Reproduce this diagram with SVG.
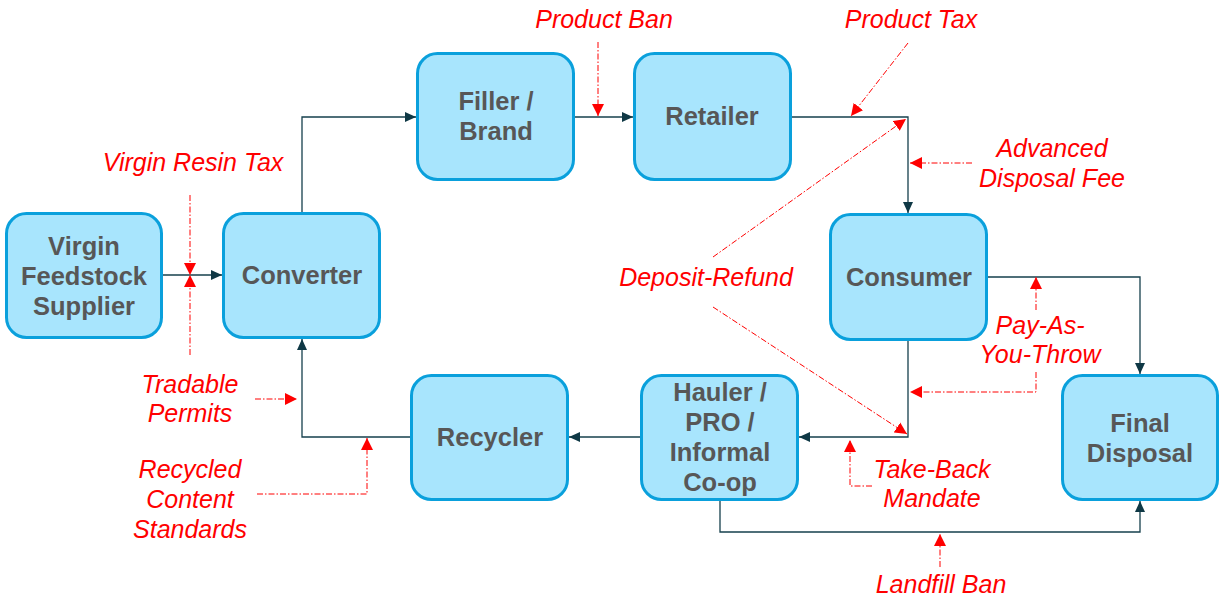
<svg xmlns="http://www.w3.org/2000/svg" width="1225" height="601" viewBox="0 0 1225 601">
<style>
.box{fill:#a8e5fd;stroke:#0aa0dc;stroke-width:3}
.lbl{font-family:"Liberation Sans",Arial,sans-serif;font-weight:bold;font-size:25.5px;fill:#575757;text-anchor:middle}
.pol{font-family:"Liberation Sans",Arial,sans-serif;font-style:italic;font-size:25px;fill:#ff0000;text-anchor:middle}
.con{fill:none;stroke:#16404d;stroke-width:1.3}
.red{fill:none;stroke:#ff0000;stroke-width:1;stroke-dasharray:6 2 1.5 2}
</style>
<defs>
<marker id="ad" markerUnits="userSpaceOnUse" markerWidth="12" markerHeight="12" refX="11" refY="6" orient="auto"><path d="M0,1 L11,6 L0,11 z" fill="#0f3845"/></marker>
<marker id="ar" markerUnits="userSpaceOnUse" markerWidth="13" markerHeight="13" refX="12" refY="6.5" orient="auto"><path d="M0,0.5 L12,6.5 L0,12.5 z" fill="#ff0000"/></marker>
</defs>
<rect width="1225" height="601" fill="#ffffff"/>
<g id="connectors">
<path class="con" d="M163,275 H222" marker-end="url(#ad)"/>
<path class="con" d="M302,212 V117 H416" marker-end="url(#ad)"/>
<path class="con" d="M575,117 H633" marker-end="url(#ad)"/>
<path class="con" d="M792,117 H908 V213" marker-end="url(#ad)"/>
<path class="con" d="M988,277 H1140 V374" marker-end="url(#ad)"/>
<path class="con" d="M908,341 V437 H799" marker-end="url(#ad)"/>
<path class="con" d="M640,437 H569" marker-end="url(#ad)"/>
<path class="con" d="M410,437 H302 V339" marker-end="url(#ad)"/>
<path class="con" d="M720,501 V532 H1140 V501" marker-end="url(#ad)"/>
</g>
<g id="policy-arrows">
<path class="red" d="M190,195 V275" marker-end="url(#ar)"/>
<path class="red" d="M190,355 V275" marker-end="url(#ar)"/>
<path class="red" d="M255,399 H297" marker-end="url(#ar)"/>
<path class="red" d="M257,494 H367 V438" marker-end="url(#ar)"/>
<path class="red" d="M598,42 V116" marker-end="url(#ar)"/>
<path class="red" d="M908,43 L851,116" marker-end="url(#ar)"/>
<path class="red" d="M972,163 H910" marker-end="url(#ar)"/>
<path class="red" d="M713,257 L906,119" marker-end="url(#ar)"/>
<path class="red" d="M713,307 L907,434" marker-end="url(#ar)"/>
<path class="red" d="M1036,310 V277" marker-end="url(#ar)"/>
<path class="red" d="M1036,372 V392 H910" marker-end="url(#ar)"/>
<path class="red" d="M872,486 H850 V440" marker-end="url(#ar)"/>
<path class="red" d="M940,567 V534" marker-end="url(#ar)"/>
</g>
<g id="virgin-feedstock-supplier">
<rect class="box" x="6.5" y="213.5" width="155" height="124" rx="20"/>
<text class="lbl" x="84" y="255">Virgin</text>
<text class="lbl" x="84" y="285">Feedstock</text>
<text class="lbl" x="84" y="315">Supplier</text>
</g>
<g id="converter">
<rect class="box" x="223.5" y="213.5" width="156" height="124" rx="20"/>
<text class="lbl" x="302" y="284">Converter</text>
</g>
<g id="filler-brand">
<rect class="box" x="417.5" y="53.5" width="156" height="126" rx="20"/>
<text class="lbl" x="496" y="110">Filler /</text>
<text class="lbl" x="496" y="140">Brand</text>
</g>
<g id="retailer">
<rect class="box" x="634.5" y="53.5" width="156" height="126" rx="20"/>
<text class="lbl" x="712" y="125">Retailer</text>
</g>
<g id="consumer">
<rect class="box" x="830.5" y="214.5" width="156" height="125" rx="20"/>
<text class="lbl" x="909" y="286">Consumer</text>
</g>
<g id="hauler">
<rect class="box" x="641.5" y="375.5" width="156" height="124" rx="20"/>
<text class="lbl" x="720" y="401">Hauler /</text>
<text class="lbl" x="720" y="431">PRO /</text>
<text class="lbl" x="720" y="461">Informal</text>
<text class="lbl" x="720" y="491">Co-op</text>
</g>
<g id="recycler">
<rect class="box" x="411.5" y="375.5" width="156" height="124" rx="20"/>
<text class="lbl" x="490" y="446">Recycler</text>
</g>
<g id="final-disposal">
<rect class="box" x="1062.5" y="375.5" width="155" height="124" rx="20"/>
<text class="lbl" x="1140" y="432">Final</text>
<text class="lbl" x="1140" y="462">Disposal</text>
</g>
<g id="policy-labels">
<text class="pol" x="193" y="171">Virgin Resin Tax</text>
<text class="pol" x="190" y="393">Tradable</text>
<text class="pol" x="190" y="422">Permits</text>
<text class="pol" x="190" y="478">Recycled</text>
<text class="pol" x="190" y="508">Content</text>
<text class="pol" x="190" y="538">Standards</text>
<text class="pol" x="604" y="28">Product Ban</text>
<text class="pol" x="911" y="28">Product Tax</text>
<text class="pol" x="1052" y="157">Advanced</text>
<text class="pol" x="1052" y="187">Disposal Fee</text>
<text class="pol" x="706" y="286">Deposit-Refund</text>
<text class="pol" x="1040" y="334">Pay-As-</text>
<text class="pol" x="1040" y="363">You-Throw</text>
<text class="pol" x="932" y="478">Take-Back</text>
<text class="pol" x="932" y="507">Mandate</text>
<text class="pol" x="941" y="593">Landfill Ban</text>
</g>
</svg>
